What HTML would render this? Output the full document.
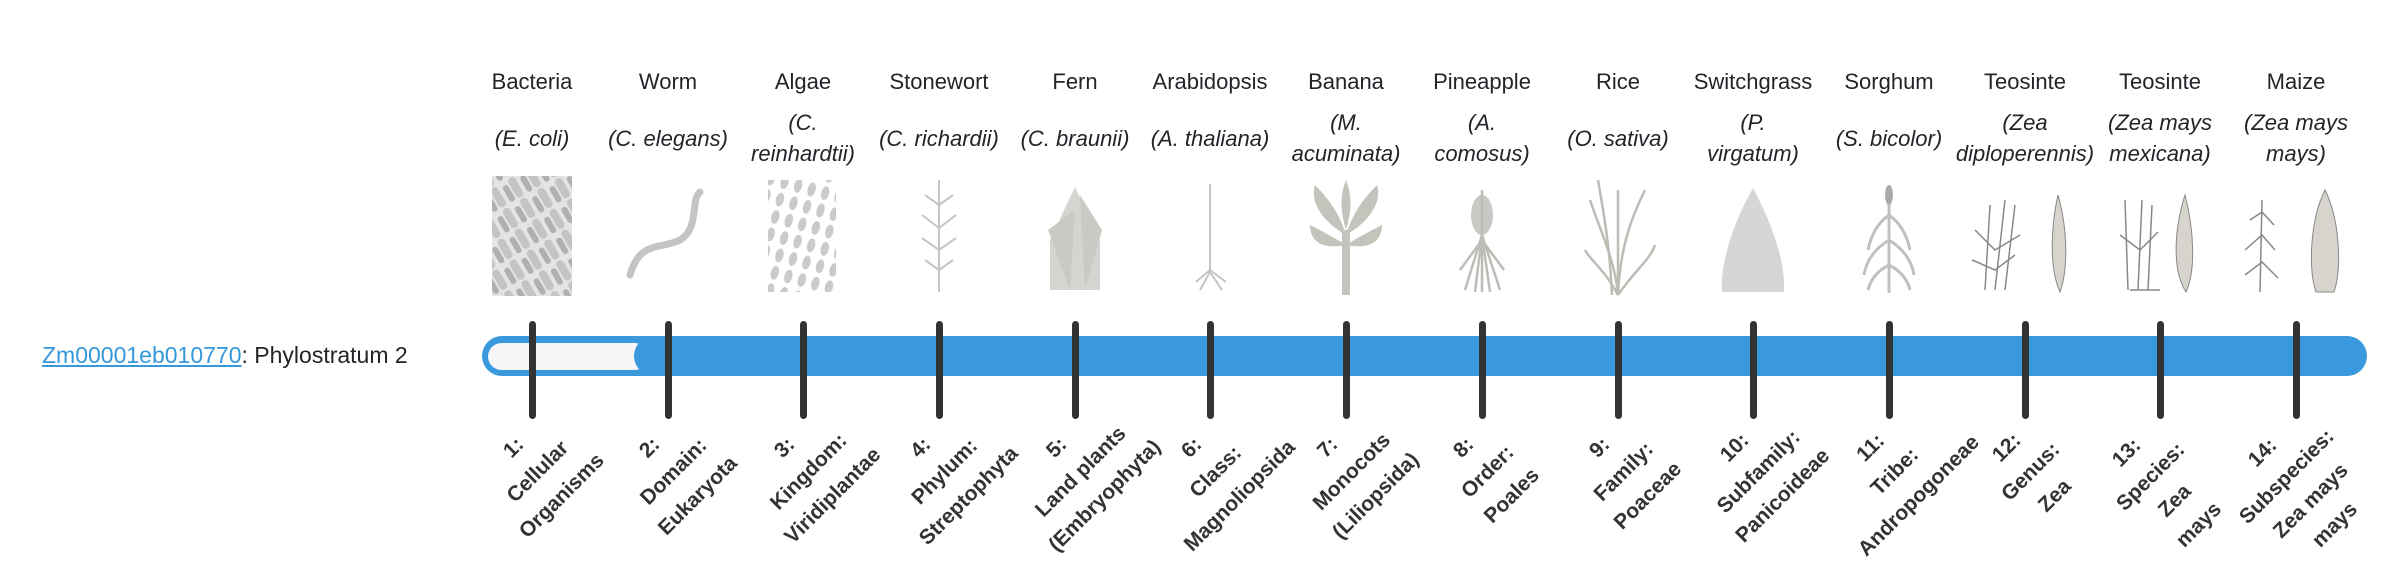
<!DOCTYPE html>
<html><head><meta charset="utf-8"><style>
html,body{margin:0;padding:0;background:#fff;width:2400px;height:580px;overflow:hidden;position:relative;font-family:"Liberation Sans",sans-serif;color:#212529}
.lab{position:absolute;left:42px;top:339px;font-size:23px;line-height:32px;white-space:nowrap}
.lab a{color:#3498db;text-decoration:underline}
.nm{position:absolute;top:66px;width:150px;text-align:center;font-size:22px;line-height:31px;white-space:nowrap}
.sp{position:absolute;top:107px;height:62px;width:150px;display:flex;align-items:center;justify-content:center;text-align:center;font-size:22px;line-height:31px;font-style:italic;white-space:nowrap}
.bl{position:absolute;width:180px;text-align:center;font-weight:bold;font-size:21px;line-height:34px;color:#333;transform-origin:top center;transform:rotate(-45deg);white-space:nowrap}
.bar{position:absolute;left:482px;top:336px;width:1885px;height:40px;border-radius:20px;background:#3999dc}
.pill{position:absolute;left:488px;top:343px;width:160px;height:27px;border-radius:14px;background:#f6f6f6}
.cap{position:absolute;left:634px;top:336px;width:60px;height:40px;border-radius:20px 0 0 20px;background:#3999dc}
.tk{position:absolute;top:321px;width:7px;height:98px;border-radius:4px;background:#333}
</style></head><body>
<div class="lab"><a>Zm00001eb010770</a>: Phylostratum 2</div>

<div class="nm" style="left:457px">Bacteria</div><div class="sp" style="left:457px">(E. coli)</div>
<div class="nm" style="left:593px">Worm</div><div class="sp" style="left:593px">(C. elegans)</div>
<div class="nm" style="left:728px">Algae</div><div class="sp" style="left:728px">(C.<br>reinhardtii)</div>
<div class="nm" style="left:864px">Stonewort</div><div class="sp" style="left:864px">(C. richardii)</div>
<div class="nm" style="left:1000px">Fern</div><div class="sp" style="left:1000px">(C. braunii)</div>
<div class="nm" style="left:1135px">Arabidopsis</div><div class="sp" style="left:1135px">(A. thaliana)</div>
<div class="nm" style="left:1271px">Banana</div><div class="sp" style="left:1271px">(M.<br>acuminata)</div>
<div class="nm" style="left:1407px">Pineapple</div><div class="sp" style="left:1407px">(A.<br>comosus)</div>
<div class="nm" style="left:1543px">Rice</div><div class="sp" style="left:1543px">(O. sativa)</div>
<div class="nm" style="left:1678px">Switchgrass</div><div class="sp" style="left:1678px">(P.<br>virgatum)</div>
<div class="nm" style="left:1814px">Sorghum</div><div class="sp" style="left:1814px">(S. bicolor)</div>
<div class="nm" style="left:1950px">Teosinte</div><div class="sp" style="left:1950px">(Zea<br>diploperennis)</div>
<div class="nm" style="left:2085px">Teosinte</div><div class="sp" style="left:2085px">(Zea mays<br>mexicana)</div>
<div class="nm" style="left:2221px">Maize</div><div class="sp" style="left:2221px">(Zea mays<br>mays)</div>

<svg style="position:absolute;left:0;top:0" width="2400" height="580">
<defs>
<pattern id="rods" width="24" height="20" patternUnits="userSpaceOnUse" patternTransform="rotate(60)">
<rect width="24" height="20" fill="#e4e4e4"/><rect x="1" y="3" width="22" height="8" rx="4" fill="#c4c4c4"/><rect x="5" y="13" width="18" height="6" rx="3" fill="#b0b0b0"/></pattern>
<pattern id="alg" width="14" height="18" patternUnits="userSpaceOnUse" patternTransform="rotate(15)">
<ellipse cx="7" cy="9" rx="4" ry="7" fill="#cacaca"/></pattern>
</defs>
<rect x="492" y="176" width="80" height="120" fill="url(#rods)"/>
<path d="M630 275 C640 240,660 250,680 240 C700 228,690 200,700 192" stroke="#c4c4c4" stroke-width="7" fill="none" stroke-linecap="round"/>
<rect x="768" y="180" width="68" height="112" fill="url(#alg)"/>
<g stroke="#c4c4c4" stroke-width="2" fill="none">
<path d="M939 180 V292"/>
<path d="M925 195 L939 205 L953 195 M922 215 L939 228 L956 215 M922 238 L939 250 L956 238 M925 260 L939 270 L953 260"/>
<path d="M1210 184 V270"/><path d="M1196 282 L1210 270 L1226 282 M1200 290 L1210 272 L1222 290"/>
</g>
<path d="M1075 187 L1100 240 L1100 290 L1050 290 L1050 240 Z" fill="#d4d4d0"/>
<path d="M1048 230 L1075 210 L1070 290 Z M1102 230 L1080 195 L1085 290 Z" fill="#cacac5"/>
<g fill="#c4c3bc">
<rect x="1342" y="230" width="8" height="65"/>
<path d="M1346 235 C1320 220,1310 200,1315 185 C1330 200,1340 215,1346 235 Z M1346 235 C1372 220,1382 200,1377 185 C1362 200,1352 215,1346 235 Z M1346 230 C1340 210,1340 195,1346 180 C1352 195,1352 210,1346 230 Z M1346 245 C1320 250,1310 240,1310 225 C1330 235,1346 245,1346 245 Z M1346 245 C1372 250,1382 240,1382 225 C1362 235,1346 245,1346 245 Z"/>
</g>
<ellipse cx="1482" cy="215" rx="11" ry="20" fill="#c8c8c4"/>
<path d="M1482 235 L1465 290 M1482 235 L1475 292 M1482 235 L1490 292 M1482 235 L1500 290 M1482 240 L1460 270 M1482 240 L1504 270 M1482 190 V292" stroke="#bdbdb8" stroke-width="2.5" fill="none"/>
<g stroke="#bdbdb6" stroke-width="2.5" fill="none">
<path d="M1618 295 C1615 260,1600 230,1590 200 M1618 295 C1620 250,1630 220,1645 190 M1618 295 C1605 270,1590 260,1585 250 M1618 295 C1635 270,1650 260,1655 245 M1618 295 V190 M1612 295 C1610 250,1605 220,1598 180"/>
</g>
<path d="M1753 188 C1735 220,1720 260,1722 292 L1784 292 C1786 260,1770 220,1753 188 Z" fill="#d6d6d6"/>
<path d="M1889 186 V293" stroke="#c0c0c0" stroke-width="3"/>
<ellipse cx="1889" cy="195" rx="4" ry="10" fill="#aaa"/>
<path d="M1889 215 C1875 225,1870 240,1868 250 M1889 215 C1903 225,1908 240,1910 250 M1889 240 C1873 250,1866 262,1864 275 M1889 240 C1905 250,1912 262,1914 275 M1889 265 C1875 272,1870 282,1868 290 M1889 265 C1903 272,1908 282,1910 290" stroke="#c0c0c0" stroke-width="3" fill="none"/>
<g stroke="#888" stroke-width="1.5" fill="none">
<path d="M1985 290 L1990 205 M1995 290 L2005 200 M2005 290 L2015 205 M1975 230 L1995 250 L2020 235 M1972 260 L1995 270 L2015 255"/>
<path d="M2160 290 L2130 290 M2128 290 L2125 200 M2138 290 L2142 200 M2148 290 L2152 205 M2120 235 L2140 250 L2158 232"/>
<path d="M2260 292 L2262 200 M2245 250 L2262 235 L2275 250 M2245 275 L2262 262 L2278 278 M2250 220 L2262 212 L2274 225"/>
</g>
<g fill="#d6d4cc" stroke="#888" stroke-width="1">
<path d="M2058 195 C2050 230,2050 270,2060 292 C2068 270,2068 230,2058 195 Z"/>
<path d="M2185 195 C2174 230,2172 270,2186 292 C2196 270,2194 230,2185 195 Z"/>
<path d="M2325 190 C2310 220,2308 270,2316 292 L2334 292 C2342 270,2340 220,2325 190 Z"/>
</g>
</svg>

<div class="bar"></div><div class="pill"></div><div class="cap"></div>
<div class="tk" style="left:529px"></div><div class="tk" style="left:665px"></div><div class="tk" style="left:800px"></div><div class="tk" style="left:936px"></div><div class="tk" style="left:1072px"></div><div class="tk" style="left:1207px"></div><div class="tk" style="left:1343px"></div><div class="tk" style="left:1479px"></div><div class="tk" style="left:1615px"></div><div class="tk" style="left:1750px"></div><div class="tk" style="left:1886px"></div><div class="tk" style="left:2022px"></div><div class="tk" style="left:2157px"></div><div class="tk" style="left:2293px"></div>

<div class="bl" style="left:412px;top:436px">1:<br>Cellular<br>Organisms</div>
<div class="bl" style="left:548px;top:436px">2:<br>Domain:<br>Eukaryota</div>
<div class="bl" style="left:683px;top:436px">3:<br>Kingdom:<br>Viridiplantae</div>
<div class="bl" style="left:819px;top:436px">4:<br>Phylum:<br>Streptophyta</div>
<div class="bl" style="left:955px;top:436px">5:<br>Land plants<br>(Embryophyta)</div>
<div class="bl" style="left:1090px;top:436px">6:<br>Class:<br>Magnoliopsida</div>
<div class="bl" style="left:1226px;top:436px">7:<br>Monocots<br>(Liliopsida)</div>
<div class="bl" style="left:1362px;top:436px">8:<br>Order:<br>Poales</div>
<div class="bl" style="left:1498px;top:436px">9:<br>Family:<br>Poaceae</div>
<div class="bl" style="left:1633px;top:436px">10:<br>Subfamily:<br>Panicoideae</div>
<div class="bl" style="left:1769px;top:436px">11:<br>Tribe:<br>Andropogoneae</div>
<div class="bl" style="left:1905px;top:436px">12:<br>Genus:<br>Zea</div>
<div class="bl" style="left:2025px;top:441px">13:<br>Species:<br>Zea<br>mays</div>
<div class="bl" style="left:2161px;top:441px">14:<br>Subspecies:<br>Zea mays<br>mays</div>
</body></html>
